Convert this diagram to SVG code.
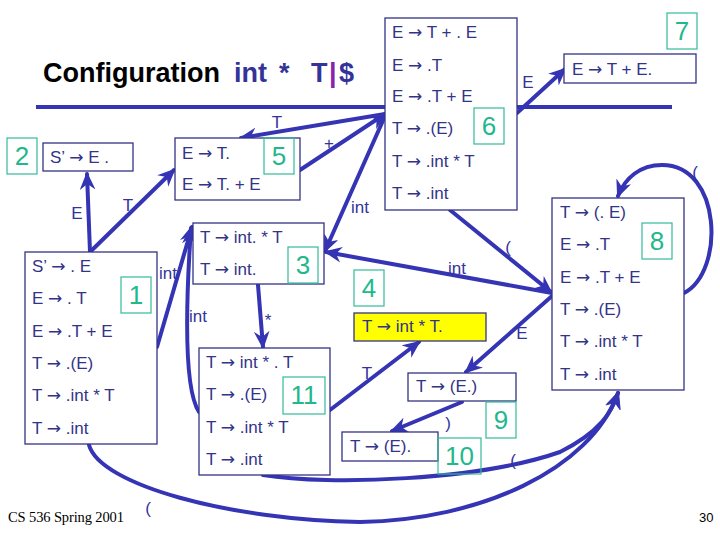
<svg xmlns="http://www.w3.org/2000/svg" width="720" height="540" viewBox="0 0 720 540">
<defs>
<style>
.box{fill:#ffffff;stroke:#333388;stroke-width:1.3}
.yel{fill:#ffff00;stroke:#333388;stroke-width:1.3}
.lab{fill:none;stroke:#33bb99;stroke-width:1.2}
.num{font-family:"Liberation Sans",Arial,sans-serif;font-size:26px;fill:#22b88c;text-anchor:middle}
.it{font-family:"Liberation Sans","DejaVu Sans",sans-serif;font-size:17px;fill:#333388}
.ar{font-family:"DejaVu Sans",sans-serif;font-size:17px}
.cl{font-family:"Liberation Sans","DejaVu Sans",sans-serif;font-size:17px;fill:#333399;text-anchor:middle}
.con{fill:none;stroke:#3434b4;stroke-width:4;stroke-linecap:round}
</style>
<marker id="ah" viewBox="0 0 16 14" markerWidth="18" markerHeight="16" refX="14" refY="7" orient="auto" markerUnits="userSpaceOnUse">
<path d="M0,0 L16,7 L0,14 L5,7 Z" fill="#3434b4"/>
</marker>
</defs>
<rect width="720" height="540" fill="#ffffff"/>

<g id="title">
<line x1="36" y1="107" x2="672" y2="107" stroke="#3434b4" stroke-width="4"/>
<text y="82" style="font-family:'Liberation Sans','DejaVu Sans',sans-serif;font-size:27px;font-weight:bold"><tspan x="43" textLength="177" fill="#000000">Configuration</tspan><tspan x="234" fill="#333399">int</tspan><tspan x="279" fill="#333399">*</tspan><tspan x="311" fill="#333399">T</tspan><tspan x="329" fill="#8822aa">|</tspan><tspan x="339" fill="#333399">$</tspan></text>
</g>

<g id="connectors">
<path class="con" marker-end="url(#ah)" d="M90,252 L87,174"/>
<path class="con" marker-end="url(#ah)" d="M90,252 L174,170"/>
<path class="con" marker-end="url(#ah)" d="M385,114 L241,138"/>
<path class="con" marker-end="url(#ah)" d="M300,170 L385,114"/>
<path class="con" marker-end="url(#ah)" d="M385,116 L325,251"/>
<path class="con" marker-end="url(#ah)" d="M157,347 L192,227"/>
<path class="con" marker-end="url(#ah)" d="M199,412 C186,392 184,330 191,228"/>
<path class="con" marker-end="url(#ah)" d="M258,285 L263,347"/>
<path class="con" marker-end="url(#ah)" d="M330,410 L419,342"/>
<path class="con" marker-end="url(#ah)" d="M552,293 L326,252"/>
<path class="con" marker-end="url(#ah)" d="M450,210 L551,292"/>
<path class="con" marker-end="url(#ah)" d="M552,296 L466,372"/>
<path class="con" marker-end="url(#ah)" d="M462,402 L392,431"/>
<path class="con" marker-end="url(#ah)" d="M517,113 L565,69"/>
<path class="con" marker-end="url(#ah)" d="M684,293 C725,272 722,165 662,165 C640,165 625,178 618,196"/>
<path class="con" marker-end="url(#ah)" d="M89,445 C100,485 230,520 360,522 C480,520 590,470 618,393"/>
<path class="con" marker-end="url(#ah)" d="M263,475 C330,486 480,480 560,452 C600,432 612,412 618,393"/>
<text class="cl" x="77" y="219">E</text>
<text class="cl" x="128" y="211">T</text>
<text class="cl" x="277" y="128">T</text>
<text class="cl" x="329" y="149">+</text>
<text class="cl" x="360" y="213">int</text>
<text class="cl" x="168" y="279">int</text>
<text class="cl" x="198" y="322">int</text>
<text class="cl" x="268" y="326">*</text>
<text class="cl" x="367" y="379">T</text>
<text class="cl" x="457" y="274">int</text>
<text class="cl" x="508" y="253">(</text>
<text class="cl" x="522" y="339">E</text>
<text class="cl" x="448" y="429">)</text>
<text class="cl" x="695" y="178">(</text>
<text class="cl" x="148" y="514">(</text>
<text class="cl" x="513" y="466">(</text>
<text class="cl" x="528" y="88">E</text>
</g>

<g id="state1">
<rect class="box" x="25" y="252" width="132" height="192"/>
<text class="it" x="32" y="272">S’ <tspan class="ar">→</tspan> . E</text>
<text class="it" x="32" y="304">E <tspan class="ar">→</tspan> . T</text>
<text class="it" x="32" y="337">E <tspan class="ar">→</tspan> .T + E</text>
<text class="it" x="32" y="369">T <tspan class="ar">→</tspan> .(E)</text>
<text class="it" x="32" y="401">T <tspan class="ar">→</tspan> .int * T</text>
<text class="it" x="32" y="434">T <tspan class="ar">→</tspan> .int</text>
<rect class="lab" x="121" y="277" width="30" height="36"/>
<text class="num" x="136" y="304">1</text>
</g>

<g id="state2">
<rect class="box" x="43" y="143" width="90" height="28"/>
<text class="it" x="50" y="163">S’ <tspan class="ar">→</tspan> E .</text>
<rect class="lab" x="7" y="138" width="30" height="36"/>
<text class="num" x="22" y="165">2</text>
</g>

<g id="state3">
<rect class="box" x="193" y="223" width="131" height="61"/>
<text class="it" x="200" y="243">T <tspan class="ar">→</tspan> int. * T</text>
<text class="it" x="200" y="275">T <tspan class="ar">→</tspan> int.</text>
<rect class="lab" x="288" y="247" width="30" height="36"/>
<text class="num" x="303" y="274">3</text>
</g>

<g id="state4">
<rect class="yel" x="354" y="313" width="132" height="28"/>
<text class="it" x="362" y="332">T <tspan class="ar">→</tspan> int * T.</text>
<rect class="lab" x="354" y="270" width="30" height="36"/>
<text class="num" x="369" y="297">4</text>
</g>

<g id="state5">
<rect class="box" x="175" y="138" width="125" height="62"/>
<text class="it" x="182" y="159">E <tspan class="ar">→</tspan> T.</text>
<text class="it" x="182" y="190">E <tspan class="ar">→</tspan> T. + E</text>
<rect class="lab" x="264" y="138" width="30" height="36"/>
<text class="num" x="279" y="165">5</text>
</g>

<g id="state6">
<rect class="box" x="385" y="18" width="132" height="192"/>
<text class="it" x="392" y="38">E <tspan class="ar">→</tspan> T + . E</text>
<text class="it" x="392" y="71">E <tspan class="ar">→</tspan> .T</text>
<text class="it" x="392" y="102">E <tspan class="ar">→</tspan> .T + E</text>
<text class="it" x="392" y="134">T <tspan class="ar">→</tspan> .(E)</text>
<text class="it" x="392" y="167">T <tspan class="ar">→</tspan> .int * T</text>
<text class="it" x="392" y="199">T <tspan class="ar">→</tspan> .int</text>
<rect class="lab" x="474" y="108" width="30" height="36"/>
<text class="num" x="489" y="135">6</text>
</g>

<g id="state7">
<rect class="box" x="564" y="54" width="132" height="29"/>
<text class="it" x="572" y="75">E <tspan class="ar">→</tspan> T + E.</text>
<rect class="lab" x="667" y="13" width="30" height="36"/>
<text class="num" x="682" y="40">7</text>
</g>

<g id="state8">
<rect class="box" x="552" y="198" width="132" height="192"/>
<text class="it" x="560" y="218">T <tspan class="ar">→</tspan> (. E)</text>
<text class="it" x="560" y="250">E <tspan class="ar">→</tspan> .T</text>
<text class="it" x="560" y="283">E <tspan class="ar">→</tspan> .T + E</text>
<text class="it" x="560" y="315">T <tspan class="ar">→</tspan> .(E)</text>
<text class="it" x="560" y="347">T <tspan class="ar">→</tspan> .int * T</text>
<text class="it" x="560" y="380">T <tspan class="ar">→</tspan> .int</text>
<rect class="lab" x="642" y="223" width="30" height="36"/>
<text class="num" x="657" y="250">8</text>
</g>

<g id="state9">
<rect class="box" x="408" y="373" width="108" height="28"/>
<text class="it" x="416" y="392">T <tspan class="ar">→</tspan> (E.)</text>
<rect class="lab" x="486" y="402" width="30" height="36"/>
<text class="num" x="501" y="429">9</text>
</g>

<g id="state10">
<rect class="box" x="342" y="432" width="96" height="29"/>
<text class="it" x="350" y="452">T <tspan class="ar">→</tspan> (E).</text>
<rect class="lab" x="438" y="438" width="43" height="36"/>
<text class="num" x="459.5" y="465">10</text>
</g>

<g id="state11">
<rect class="box" x="199" y="348" width="131" height="127"/>
<text class="it" x="206" y="368">T <tspan class="ar">→</tspan> int * . T</text>
<text class="it" x="206" y="400">T <tspan class="ar">→</tspan> .(E)</text>
<text class="it" x="206" y="433">T <tspan class="ar">→</tspan> .int * T</text>
<text class="it" x="206" y="465">T <tspan class="ar">→</tspan> .int</text>
<rect class="lab" x="283" y="377" width="42" height="37"/>
<text class="num" x="304" y="404">11</text>
</g>

<g id="footer">
<text x="8" y="522" textLength="116" style="font-family:'Liberation Serif',serif;font-size:14.5px;fill:#000000">CS 536  Spring 2001</text>
<text x="699" y="522" style="font-family:'Liberation Sans',sans-serif;font-size:13px;fill:#000000">30</text>
</g>
</svg>
